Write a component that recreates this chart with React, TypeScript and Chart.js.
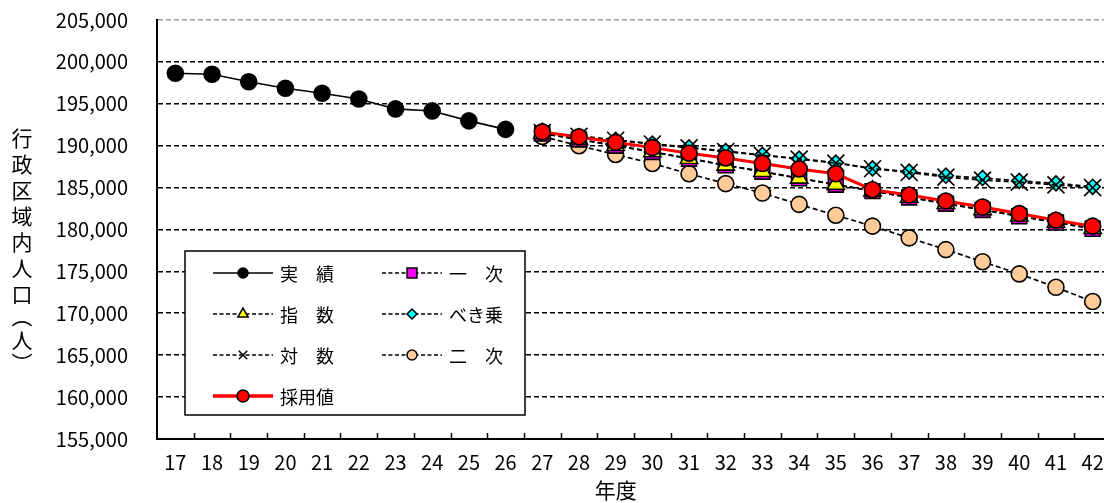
import React, { useEffect, useRef } from 'react';
import { Chart, registerables } from 'chart.js';
import { drawPoint } from 'chart.js/helpers';

Chart.register(...registerables);

const FONT = '"Noto Sans CJK JP", "Noto Sans", sans-serif';
const CANVAS_W = 1130;
const CANVAS_H = 503;

// categories (fiscal years, Heisei)
const years = ['17', '18', '19', '20', '21', '22', '23', '24', '25', '26', '27', '28', '29', '30', '31', '32', '33', '34', '35', '36', '37', '38', '39', '40', '41', '42'];

// y-axis ticks
const yMin = 155000;
const yMax = 205000;
const yStep = 5000;

// series values
const actual = [198650, 198520, 197640, 196860, 196260, 195580, 194390, 194150, 192960, 191950, null, null, null, null, null, null, null, null, null, null, null, null, null, null, null, null];
const linear = [null, null, null, null, null, null, null, null, null, null, 191450, 190750, 190000, 189250, 188450, 187650, 186900, 186100, 185350, 184580, 183820, 183080, 182330, 181580, 180830, 180080];
const exponential = [null, null, null, null, null, null, null, null, null, null, 191460, 190760, 190020, 189270, 188480, 187680, 186930, 186130, 185380, 184600, 183850, 183110, 182360, 181610, 180870, 180120];
const power = [null, null, null, null, null, null, null, null, null, null, 191600, 191150, 190700, 190250, 189800, 189350, 188900, 188450, 187980, 187300, 186900, 186420, 186150, 185800, 185500, 185100];
const logarithmic = [null, null, null, null, null, null, null, null, null, null, 191580, 191120, 190650, 190200, 189750, 189300, 188850, 188400, 187930, 187250, 186800, 186250, 185900, 185650, 185320, 185000];
const quadratic = [null, null, null, null, null, null, null, null, null, null, 191100, 190000, 188950, 187880, 186650, 185480, 184350, 183000, 181700, 180400, 179000, 177600, 176150, 174700, 173100, 171400];
const adopted = [null, null, null, null, null, null, null, null, null, null, 191650, 191050, 190400, 189770, 189100, 188540, 187870, 187230, 186650, 184750, 184120, 183400, 182680, 181900, 181100, 180400];

const yTitle = '行政区域内人口（人）';
const xTitle = '年度';

type SeriesDef = {
  label: string;
  data: (number | null)[];
  lineColor: string;
  lineWidth: number;
  dash: number[];
  pointStyle: string;
  radius: number;
  legendRadius: number;
  fill: string;
  order: number;
};

const series: SeriesDef[] = [
  { label: '実　績', data: actual, lineColor: '#000000', lineWidth: 1.6, dash: [], pointStyle: 'circle', radius: 8, legendRadius: 5, fill: '#000000', order: 6 },
  { label: '一　次', data: linear, lineColor: '#000000', lineWidth: 1.7, dash: [5, 3], pointStyle: 'rect', radius: 10.5, legendRadius: 7, fill: '#FF00FF', order: 4 },
  { label: '指　数', data: exponential, lineColor: '#000000', lineWidth: 1.7, dash: [5, 3], pointStyle: 'triangle', radius: 10, legendRadius: 6, fill: '#FFFF00', order: 3 },
  { label: 'べき乗', data: power, lineColor: '#000000', lineWidth: 1.7, dash: [5, 3], pointStyle: 'rectRot', radius: 7.5, legendRadius: 5, fill: '#00FFFF', order: 2 },
  { label: '対　数', data: logarithmic, lineColor: '#000000', lineWidth: 1.7, dash: [5, 3], pointStyle: 'crossRot', radius: 12, legendRadius: 6, fill: '#000000', order: 1 },
  { label: '二　次', data: quadratic, lineColor: '#000000', lineWidth: 1.7, dash: [5, 3], pointStyle: 'circle', radius: 8, legendRadius: 5, fill: '#FFCC99', order: 5 },
  { label: '採用値', data: adopted, lineColor: '#FF0000', lineWidth: 3, dash: [], pointStyle: 'circle', radius: 8, legendRadius: 6, fill: '#FF0000', order: 0 },
];

// legend layout: [column][row] -> series index
const legendColumns = [[0, 2, 4, 6], [1, 3, 5]];

const decorPlugin = {
  id: 'decor',
  beforeDatasetsDraw(chart: any) {
    const { ctx, chartArea, scales } = chart;
    const x = scales.x;
    ctx.save();
    ctx.strokeStyle = '#000';
    ctx.lineWidth = 1.5;
    for (let i = 1; i <= years.length; i++) {
      const px = Math.round((x.getPixelForValue(i - 1) + x.getPixelForValue(i)) / 2) + 0.5;
      ctx.beginPath();
      ctx.moveTo(px, chartArea.bottom);
      ctx.lineTo(px, chartArea.bottom - 6);
      ctx.stroke();
    }
    ctx.restore();
  },
  afterDraw(chart: any) {
    const { ctx, chartArea, scales } = chart;
    ctx.save();
    // Y title, vertical writing
    ctx.fillStyle = '#000';
    ctx.font = `21px ${FONT}`;
    ctx.textAlign = 'center';
    ctx.textBaseline = 'middle';
    const chars = Array.from(yTitle);
    const isParen = (c: string) => c === '（' || c === '）';
    let cy = chartArea.top + 118;
    const cx = 22;
    chars.forEach((c, i) => {
      if (i > 0) {
        const prev = chars[i - 1];
        cy += (isParen(prev) ? 10 : 13) + (isParen(c) ? 10 : 13);
      }
      if (isParen(c)) {
        ctx.save();
        ctx.translate(cx, cy);
        ctx.rotate(Math.PI / 2);
        ctx.fillText(c, 0, 0);
        ctx.restore();
      } else {
        ctx.fillText(c, cx, cy);
      }
    });
    // X title
    ctx.font = `21px ${FONT}`;
    ctx.fillText(xTitle, scales.x.getPixelForValue(12), 490);

    // Legend box
    const bx = chartArea.left + 28;
    const by = chartArea.top + 231;
    const bw = 340;
    const bh = 164;
    ctx.fillStyle = '#fff';
    ctx.fillRect(bx, by, bw, bh);
    ctx.strokeStyle = '#000';
    ctx.lineWidth = 1.5;
    ctx.strokeRect(bx, by, bw, bh);

    const colX = [bx + 28, bx + 197];
    const lineLen = 60;
    const rowY0 = by + 22;
    const rowGap = 41;
    ctx.font = `18px ${FONT}`;
    ctx.textAlign = 'left';
    ctx.textBaseline = 'middle';
    legendColumns.forEach((col, ci) => {
      col.forEach((si, ri) => {
        const s = series[si];
        const y = rowY0 + ri * rowGap;
        const x0 = colX[ci];
        ctx.save();
        ctx.strokeStyle = s.lineColor;
        ctx.lineWidth = s.lineWidth === 3 ? 3.5 : 1.4;
        ctx.setLineDash(s.dash.length ? [4, 2.5] : []);
        ctx.beginPath();
        ctx.moveTo(x0, y);
        ctx.lineTo(x0 + lineLen, y);
        ctx.stroke();
        ctx.setLineDash([]);
        ctx.fillStyle = s.fill;
        ctx.strokeStyle = '#000';
        ctx.lineWidth = 1.5;
        drawPoint(ctx, { pointStyle: s.pointStyle as any, radius: s.legendRadius, rotation: 0, borderWidth: 1.5 } as any, x0 + lineLen / 2, y);
        ctx.restore();
        ctx.fillStyle = '#000';
        ctx.fillText(s.label, x0 + 67, y + 1);
      });
    });
    ctx.restore();
  },
};

export default function App() {
  const canvasRef = useRef<HTMLCanvasElement | null>(null);

  useEffect(() => {
    if (!canvasRef.current) return;
    const chart = new Chart(canvasRef.current, {
      type: 'line',
      data: {
        labels: years,
        datasets: series.map((s) => ({
          label: s.label,
          data: s.data,
          borderColor: s.lineColor,
          borderWidth: s.lineWidth,
          borderDash: s.dash,
          pointStyle: s.pointStyle as any,
          pointRadius: s.radius,
          pointBackgroundColor: s.fill,
          pointBorderColor: '#000000',
          pointBorderWidth: 1.6,
          tension: 0,
          fill: false,
          order: s.order,
          spanGaps: false,
        })),
      },
      options: {
        animation: false,
        responsive: false,
        devicePixelRatio: 1,
        layout: { padding: { top: 20, right: CANVAS_W - 1111, left: 0, bottom: 0 } },
        plugins: {
          legend: { display: false },
          tooltip: { enabled: false },
        },
        scales: {
          x: {
            type: 'category',
            offset: true,
            grid: { display: false },
            border: { display: true, color: '#000', width: 2 },
            ticks: { color: '#000', font: { family: FONT, size: 20 }, padding: 3, maxRotation: 0, autoSkip: false },
            afterFit: (s: any) => { s.height = 64; },
          },
          y: {
            min: yMin,
            max: yMax,
            ticks: {
              stepSize: yStep,
              color: '#000',
              font: { family: FONT, size: 20 },
              padding: 29,
              callback: (v: any) => Number(v).toLocaleString('en-US'),
            },
            grid: {
              drawTicks: false,
              lineWidth: 1.6,
              color: (c: any) => (c.tick && c.tick.value === yMax ? '#9a9a9a' : c.tick && c.tick.value === yMin ? 'rgba(0,0,0,0)' : '#000'),
            },
            border: { display: true, color: '#000', width: 2, dash: [5, 3] },
            afterFit: (s: any) => { s.width = 157; s.paddingTop = 0; s.paddingBottom = 0; },
          },
        },
      },
      plugins: [decorPlugin],
    });
    return () => chart.destroy();
  }, []);

  return (
    <div style={{ position: 'fixed', left: 0, top: 0, width: 1104, height: 503, overflow: 'hidden', background: '#fff' }}>
      <canvas ref={canvasRef} width={CANVAS_W} height={CANVAS_H} style={{ display: 'block', width: CANVAS_W, height: CANVAS_H }} />
    </div>
  );
}
